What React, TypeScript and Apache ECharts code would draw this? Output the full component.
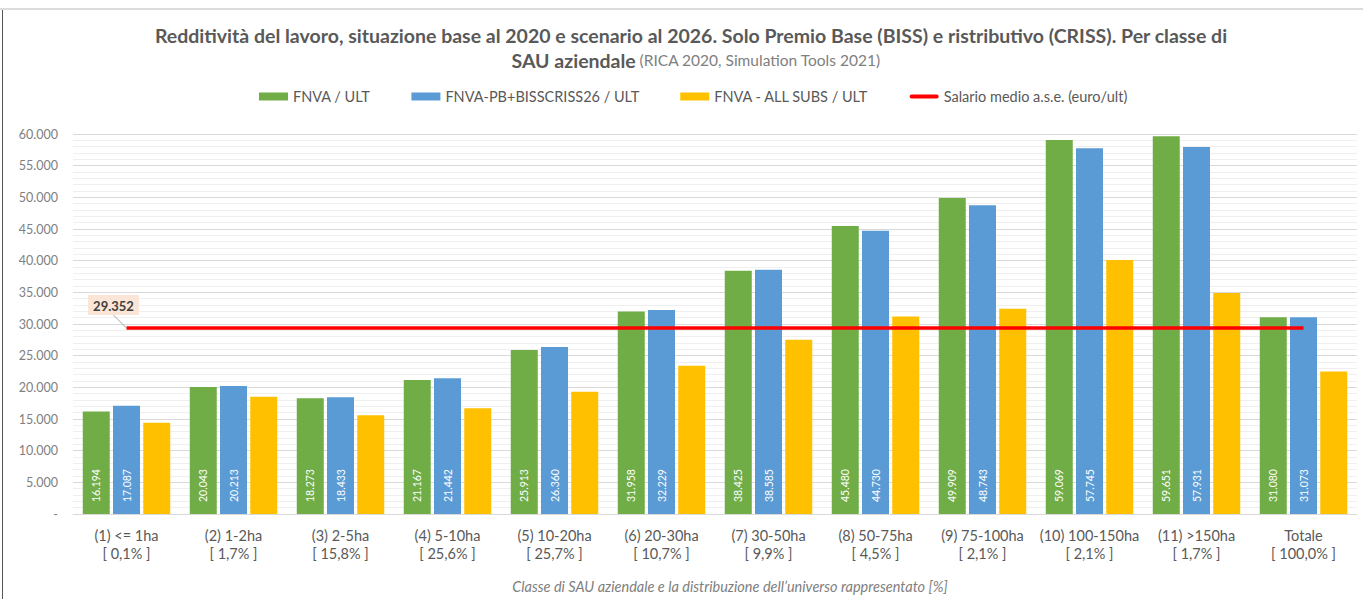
import React, { useEffect, useRef } from "react";
import * as echarts from "echarts";

const categories = [
  "(1) <= 1ha", "(2) 1-2ha", "(3) 2-5ha", "(4) 5-10ha", "(5) 10-20ha", "(6) 20-30ha",
  "(7) 30-50ha", "(8) 50-75ha", "(9) 75-100ha", "(10) 100-150ha", "(11) >150ha", "Totale",
];
const shares = [
  "[ 0,1% ]", "[ 1,7% ]", "[ 15,8% ]", "[ 25,6% ]", "[ 25,7% ]", "[ 10,7% ]",
  "[ 9,9% ]", "[ 4,5% ]", "[ 2,1% ]", "[ 2,1% ]", "[ 1,7% ]", "[ 100,0% ]",
];
const fnvaUlt = [16194, 20043, 18273, 21167, 25913, 31958, 38425, 45480, 49909, 59069, 59651, 31080];
const fnvaBiss = [17087, 20213, 18433, 21442, 26360, 32229, 38585, 44730, 48743, 57745, 57931, 31073];
const fnvaAllSubs = [14400, 18500, 15600, 16700, 19300, 23400, 27500, 31200, 32400, 40100, 34900, 22500];
const salario = [29352, 29352, 29352, 29352, 29352, 29352, 29352, 29352, 29352, 29352, 29352, 29352];
const seriesNames = [
  "FNVA / ULT",
  "FNVA-PB+BISSCRISS26 / ULT",
  "FNVA - ALL SUBS / ULT",
  "Salario medio a.s.e. (euro/ult)",
];
const yTicks = { min: 0, max: 60000, interval: 5000 };

const FONT = "Lato, 'Liberation Sans', sans-serif";

const fmt = (v: number) =>
  Math.round(v).toString().replace(/\B(?=(\d{3})+(?!\d))/g, ".");

export default function App() {
  const ref = useRef<HTMLDivElement>(null);
  useEffect(() => {
    if (!ref.current) return;
    const chart = echarts.init(ref.current, null, { renderer: "svg" });
    const barLabel = {
      show: true,
      position: "insideBottom",
      rotate: 90,
      align: "left",
      verticalAlign: "middle",
      distance: 12,
      color: "#ffffff",
      fontSize: 10.5,
      fontFamily: FONT,
      formatter: (p: any) => fmt(p.value),
    };
    const option: any = {
      animation: false,
      backgroundColor: "#ffffff",
      textStyle: { fontFamily: FONT },
      graphic: [
        {
          type: "text",
          x: 691,
          y: 35,
          style: {
            text: "Redditività del lavoro, situazione base al 2020 e scenario al 2026. Solo Premio Base (BISS) e ristributivo (CRISS). Per classe di",
            fill: "#595959",
            font: `bold 19.5px ${FONT}`,
            textAlign: "center",
            textVerticalAlign: "middle",
          },
        },
        {
          type: "text",
          x: 696,
          y: 60,
          style: {
            text: "{b|SAU aziendale} {n|(RICA 2020, Simulation Tools 2021)}",
            textAlign: "center",
            textVerticalAlign: "middle",
            rich: {
              b: { fontSize: 19.5, fontWeight: "bold", fill: "#595959", fontFamily: FONT },
              n: { fontSize: 15.5, fill: "#808080", fontFamily: FONT },
            },
          },
        },
        {
          type: "text",
          x: 730,
          y: 586,
          style: {
            text: "Classe di SAU aziendale e la distribuzione dell’universo rappresentato [%]",
            fill: "#808080",
            font: `italic 14.5px ${FONT}`,
            textAlign: "center",
            textVerticalAlign: "middle",
          },
        },
      ],
      legend: {
        left: 259,
        top: 89,
        padding: 0,
        itemWidth: 29,
        itemHeight: 8,
        itemGap: 41,
        textStyle: { color: "#595959", fontSize: 14.5, fontFamily: FONT },
        data: [
          { name: seriesNames[0], icon: "rect" },
          { name: seriesNames[1], icon: "rect" },
          { name: seriesNames[2], icon: "rect" },
          { name: seriesNames[3], icon: "path://M2,0L28,0A2,2,0,0,1,28,4L2,4A2,2,0,0,1,2,0Z" },
        ],
      },
      grid: { left: 73, right: 6, top: 134, bottom: 85, containLabel: false },
      xAxis: {
        type: "category",
        data: categories.map((c, i) => `${c}\n${shares[i]}`),
        axisLine: { show: true, lineStyle: { color: "#d9d9d9", width: 1 } },
        axisTick: { show: false },
        axisLabel: {
          interval: 0,
          color: "#595959",
          fontSize: 14.5,
          lineHeight: 18,
          margin: 12,
          fontFamily: FONT,
        },
      },
      yAxis: {
        type: "value",
        min: yTicks.min,
        max: yTicks.max,
        interval: yTicks.interval,
        axisLine: { show: false },
        axisTick: { show: false },
        axisLabel: {
          color: "#808080",
          fontSize: 12.5,
          margin: 15,
          fontFamily: FONT,
          formatter: (v: number) => (v === 0 ? "-" : fmt(v)),
        },
        splitLine: { show: true, lineStyle: { color: "#d9d9d9", width: 1 } },
        minorTick: { show: false, splitNumber: 5 },
        minorSplitLine: { show: true, lineStyle: { color: "#efefef", width: 1 } },
      },
      series: [
        {
          name: seriesNames[0],
          type: "bar",
          data: fnvaUlt,
          barWidth: 27,
          barGap: "12%",
          itemStyle: { color: "#70ad47" },
          label: barLabel,
        },
        {
          name: seriesNames[1],
          type: "bar",
          data: fnvaBiss,
          barWidth: 27,
          barGap: "12%",
          itemStyle: { color: "#5b9bd5" },
          label: barLabel,
        },
        {
          name: seriesNames[2],
          type: "bar",
          data: fnvaAllSubs,
          barWidth: 27,
          barGap: "12%",
          itemStyle: { color: "#ffc000" },
        },
        {
          name: seriesNames[3],
          type: "line",
          data: salario.map((v, i) =>
            i === 0
              ? {
                  value: v,
                  label: {
                    show: true,
                    position: "top",
                    distance: 4,
                    formatter: (p: any) => fmt(p.value),
                    backgroundColor: "#fbe5d6",
                    padding: [4, 5, 3, 5],
                    color: "#404040",
                    fontWeight: "bold",
                    fontSize: 13,
                    fontFamily: FONT,
                  },
                  labelLine: { show: true, lineStyle: { color: "#a6a6a6", width: 1 } },
                }
              : v
          ),
          symbol: "circle",
          symbolSize: 0.1,
          showSymbol: true,
          itemStyle: { color: "#ff0000" },
          lineStyle: { color: "#ff0000", width: 3.5 },
          labelLayout: { dx: -13, dy: -9 },
          labelLine: { show: true, lineStyle: { color: "#a6a6a6", width: 1 } },
          z: 5,
        },
      ],
    };
    chart.setOption(option);
    return () => chart.dispose();
  }, []);
  return (
    <div style={{ position: "absolute", left: 0, top: 0, width: 1363, height: 599, background: "#fff" }}>
      <div ref={ref} style={{ position: "absolute", left: 0, top: 0, width: 1363, height: 599 }} />
      <div style={{ position: "absolute", left: 0, top: 8, width: 1363, height: 2, background: "#dcdcdc" }} />
      <div style={{ position: "absolute", left: 2, top: 10, width: 1, height: 589, background: "#555" }} />
    </div>
  );
}
